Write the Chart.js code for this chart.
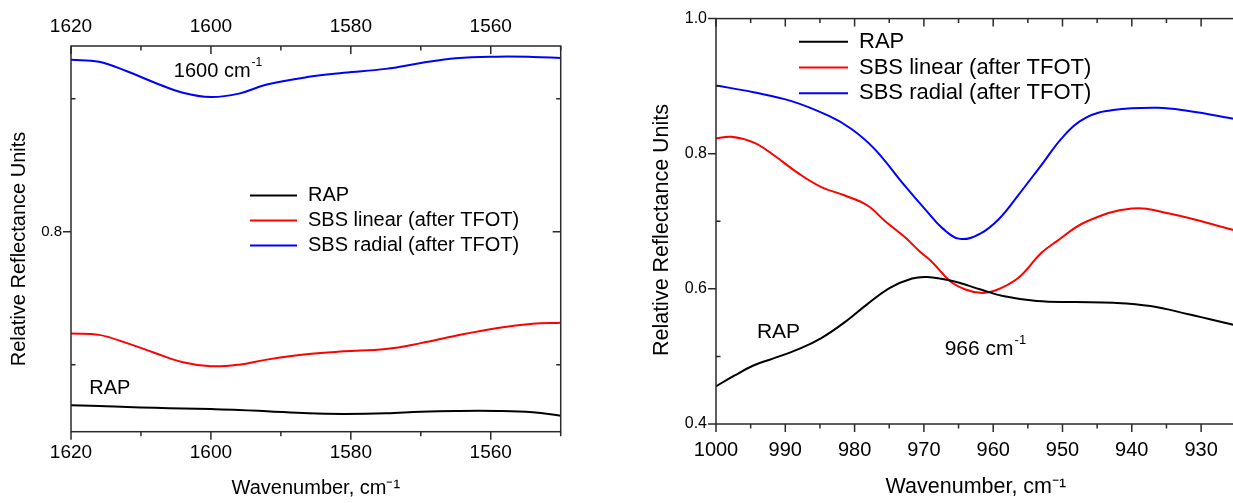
<!DOCTYPE html>
<html lang="en">
<head>
<meta charset="UTF-8">
<title>Relative reflectance spectra</title>
<script src="https://cdn.jsdelivr.net/npm/chart.js@4"></script>
<style>
  html, body { margin: 0; padding: 0; background: #fff; overflow: hidden; }
  body { width: 1233px; height: 503px; position: relative; }
  .panel { position: absolute; top: 0; }
  #left { left: 0; }
  #right { left: 640px; }
</style>
</head>
<body>
<div class="panel" id="left"><canvas id="chartLeft" width="600" height="503"></canvas></div>
<div class="panel" id="right"><canvas id="chartRight" width="610" height="503"></canvas></div>
<script>
// left panel, 1620 - 1550 cm-1
const leftWn = [1620, 1616, 1612, 1608, 1604, 1600, 1596, 1592, 1586, 1581, 1575, 1570, 1565, 1559, 1554, 1550];
const leftRap = [0.7347, 0.7345, 0.7341, 0.7338, 0.7335, 0.7333, 0.7330, 0.7325, 0.7317, 0.7315, 0.7317, 0.7323, 0.7326, 0.7326, 0.7321, 0.7308];
const leftLinear = [0.7617, 0.7612, 0.7581, 0.7544, 0.7509, 0.7494, 0.7500, 0.7519, 0.7540, 0.7550, 0.7559, 0.7581, 0.7609, 0.7638, 0.7654, 0.7658];
const leftRadial = [0.8646, 0.8639, 0.8603, 0.8560, 0.8522, 0.8506, 0.8519, 0.8553, 0.8582, 0.8597, 0.8612, 0.8634, 0.8652, 0.8658, 0.8657, 0.8653];
const leftXMajor = [1620, 1600, 1580, 1560];
const leftXMinor = [1610, 1590, 1570, 1550];
const leftYMajor = [0.8];
const leftYMinor = [0.75, 0.85];

// right panel, 1000 - 925 cm-1
const rightRapWn = [1000, 997.3, 994.6, 991.9, 988, 984.8, 981.5, 978.2, 974.9, 971.7, 969.5, 966.2, 961.8, 958.6, 953.7, 948.2, 942.7, 937.3, 931.8, 925];
const rightRap = [0.4558, 0.4719, 0.4866, 0.4964, 0.5111, 0.5272, 0.5501, 0.5771, 0.6015, 0.6153, 0.6176, 0.6123, 0.5991, 0.5893, 0.5820, 0.5805, 0.5795, 0.5746, 0.5624, 0.5460];
const rightLinearWn = [1000, 997.8, 994.6, 991.9, 988, 984.8, 981.5, 978.2, 975.5, 972.8, 970.6, 968.9, 966.2, 964, 961.8, 959.7, 956.4, 953.1, 950.9, 946.6, 940, 934.6, 925];
const rightLinear = [0.8226, 0.8251, 0.8167, 0.7996, 0.7702, 0.7507, 0.7385, 0.7238, 0.6993, 0.6770, 0.6553, 0.6406, 0.6113, 0.5991, 0.5941, 0.5976, 0.6161, 0.6528, 0.6700, 0.6993, 0.7189, 0.7115, 0.6865];
const rightRadialWn = [1000, 994.6, 989.1, 983.7, 980.4, 977.1, 972.8, 969.5, 967.3, 964.8, 961.8, 959.1, 956.4, 953.1, 949.8, 946.6, 942.7, 936.2, 931.8, 925];
const rightRadial = [0.9010, 0.8910, 0.8779, 0.8559, 0.8363, 0.8069, 0.7532, 0.7140, 0.6895, 0.6740, 0.6822, 0.7042, 0.7385, 0.7825, 0.8265, 0.8534, 0.8647, 0.8681, 0.8632, 0.8515];
const rightXMajor = [1000, 990, 980, 970, 960, 950, 940, 930];
const rightXMinor = [995, 985, 975, 965, 955, 945, 935, 925];
const rightYMajor = [0.4, 0.6, 0.8, 1.0];
const rightYMinor = [0.5, 0.7, 0.9];

const seriesNames = ['RAP', 'SBS linear (after TFOT)', 'SBS radial (after TFOT)'];
const seriesColors = ['#000000', '#ff0000', '#0000ff'];

const FONT = '"Liberation Sans", Arial, Helvetica, sans-serif';

function pts(xs, ys) {
  return xs.map((x, i) => ({ x: x, y: ys[i] }));
}

function dataset(i, data) {
  return {
    label: seriesNames[i],
    data: data,
    borderColor: seriesColors[i],
    borderWidth: 2,
    pointRadius: 0,
    tension: 0.4,
    fill: false
  };
}

// box round the plot, ticks in Origin style (major out on bottom/left, the rest inward)
const frameTicks = {
  id: 'frameTicks',
  afterDatasetsDraw(chart, args, o) {
    const { ctx, chartArea: a, scales } = chart;
    const sx = scales.x, sy = scales.y;
    ctx.save();
    ctx.strokeStyle = '#2a2a2a';
    ctx.lineWidth = 1.5;
    ctx.strokeRect(a.left, a.top, a.right - a.left, a.bottom - a.top);
    ctx.beginPath();
    const seg = (x1, y1, x2, y2) => { ctx.moveTo(x1, y1); ctx.lineTo(x2, y2); };
    o.xMajor.forEach(v => {
      const p = sx.getPixelForValue(v);
      seg(p, a.bottom, p, a.bottom + 8);
      seg(p, a.top, p, a.top + 8);
    });
    o.xMinor.forEach(v => {
      const p = sx.getPixelForValue(v);
      seg(p, a.bottom, p, a.bottom + 4.5);
      seg(p, a.top, p, a.top + 4.5);
    });
    o.yMajor.forEach(v => {
      const p = sy.getPixelForValue(v);
      seg(a.left - 8, p, a.left, p);
      if (o.rightTicks) seg(a.right - 8, p, a.right, p);
    });
    o.yMinor.forEach(v => {
      const p = sy.getPixelForValue(v);
      seg(a.left, p, a.left + 4.5, p);
      if (o.rightTicks) seg(a.right - 4.5, p, a.right, p);
    });
    ctx.stroke();
    ctx.restore();
  }
};

// legend inside the plot, the text notes and the rotated y title
const notes = {
  id: 'notes',
  afterDraw(chart, args, o) {
    const { ctx, scales } = chart;
    ctx.save();
    ctx.textBaseline = 'middle';
    ctx.textAlign = 'left';
    ctx.fillStyle = '#000';
    const lg = o.legend;
    chart.data.datasets.forEach((ds, i) => {
      const yy = lg.y + i * lg.gap;
      ctx.strokeStyle = ds.borderColor;
      ctx.lineWidth = 2;
      ctx.beginPath();
      ctx.moveTo(lg.x, yy);
      ctx.lineTo(lg.x + lg.len, yy);
      ctx.stroke();
      ctx.font = lg.size + 'px ' + FONT;
      ctx.fillText(ds.label, lg.x + lg.len + 11, yy);
    });
    o.labels.forEach(l => {
      const px = scales.x.getPixelForValue(l.x);
      const py = scales.y.getPixelForValue(l.y);
      ctx.font = o.size + 'px ' + FONT;
      ctx.fillText(l.text, px, py);
      if (l.sup) {
        const w = ctx.measureText(l.text).width;
        ctx.font = Math.round(o.size * 0.6) + 'px ' + FONT;
        ctx.fillText(l.sup, px + w + 1, py - o.size * 0.42);
      }
    });
    const t = o.yTitle;
    ctx.translate(t.x, t.y);
    ctx.rotate(-Math.PI / 2);
    ctx.textAlign = 'center';
    ctx.font = t.size + 'px ' + FONT;
    ctx.fillText(t.text, 0, 0);
    ctx.restore();
  }
};

function xAxis(min, max, labels, size, pad, height, pos, titleSize) {
  return {
    type: 'linear', position: pos, min: min, max: max, reverse: true,
    grid: { display: false, drawTicks: false },
    border: { display: false },
    afterBuildTicks: s => { s.ticks = labels.map(v => ({ value: v })); },
    afterFit: s => { s.height = height; },
    ticks: { color: '#000', font: { family: FONT, size: size }, padding: pad, maxRotation: 0, callback: v => String(v) },
    title: titleSize ? {
      display: true, text: 'Wavenumber, cm\u207B\u00B9', color: '#000',
      font: { family: FONT, size: titleSize }, padding: { top: 0, bottom: 3 }
    } : { display: false }
  };
}

function yAxis(min, max, labels, size, width) {
  return {
    type: 'linear', position: 'left', min: min, max: max,
    grid: { display: false, drawTicks: false },
    border: { display: false },
    afterBuildTicks: s => { s.ticks = labels.map(v => ({ value: v })); },
    afterFit: s => { s.width = width; },
    ticks: { color: '#000', font: { family: FONT, size: size }, padding: 9, callback: v => v.toFixed(1) },
    title: { display: false }
  };
}

Chart.defaults.font.family = FONT;

new Chart(document.getElementById('chartLeft'), {
  type: 'line',
  data: {
    datasets: [
      dataset(0, pts(leftWn, leftRap)),
      dataset(1, pts(leftWn, leftLinear)),
      dataset(2, pts(leftWn, leftRadial))
    ]
  },
  options: {
    responsive: false,
    animation: false,
    devicePixelRatio: 1,
    layout: { padding: { left: 0, right: 39.3, top: 0, bottom: 0 } },
    scales: {
      x: xAxis(1550, 1620, leftXMajor, 19, 10, 71.3, 'bottom', 20),
      x2: xAxis(1550, 1620, leftXMajor, 19, 8, 46, 'top', 0),
      y: yAxis(0.7248, 0.8698, leftYMajor, 15, 71)
    },
    plugins: {
      legend: { display: false },
      tooltip: { enabled: false },
      frameTicks: { xMajor: leftXMajor, xMinor: leftXMinor, yMajor: leftYMajor, yMinor: leftYMinor, rightTicks: true },
      notes: {
        size: 20,
        legend: { x: 250, y: 195.5, gap: 25, len: 47, size: 20 },
        labels: [
          { text: '1600 cm', sup: '-1', x: 1605.3, y: 0.8602 },
          { text: 'RAP', x: 1617.4, y: 0.7409 }
        ],
        yTitle: { text: 'Relative Reflectance Units', x: 19, y: 249, size: 20 }
      }
    }
  },
  plugins: [frameTicks, notes]
});

new Chart(document.getElementById('chartRight'), {
  type: 'line',
  data: {
    datasets: [
      dataset(0, pts(rightRapWn, rightRap)),
      dataset(1, pts(rightLinearWn, rightLinear)),
      dataset(2, pts(rightRadialWn, rightRadial))
    ]
  },
  options: {
    responsive: false,
    animation: false,
    devicePixelRatio: 1,
    layout: { padding: { left: 0, right: 14.25, top: 15, bottom: 0 } },
    scales: {
      x: xAxis(925, 1000, rightXMajor, 20, 14, 79, 'bottom', 21.5),
      y: yAxis(0.4, 1.0, rightYMajor, 16, 76)
    },
    plugins: {
      legend: { display: false },
      tooltip: { enabled: false },
      frameTicks: { xMajor: rightXMajor, xMinor: rightXMinor, yMajor: rightYMajor, yMinor: rightYMinor, rightTicks: false },
      notes: {
        size: 21,
        legend: { x: 159, y: 41.7, gap: 25.8, len: 49, size: 22 },
        labels: [
          { text: 'RAP', x: 994.1, y: 0.5354 },
          { text: '966 cm', sup: '-1', x: 967.0, y: 0.51 }
        ],
        yTitle: { text: 'Relative Reflectance Units', x: 22, y: 230, size: 21.5 }
      }
    }
  },
  plugins: [frameTicks, notes]
});
</script>
</body>
</html>
